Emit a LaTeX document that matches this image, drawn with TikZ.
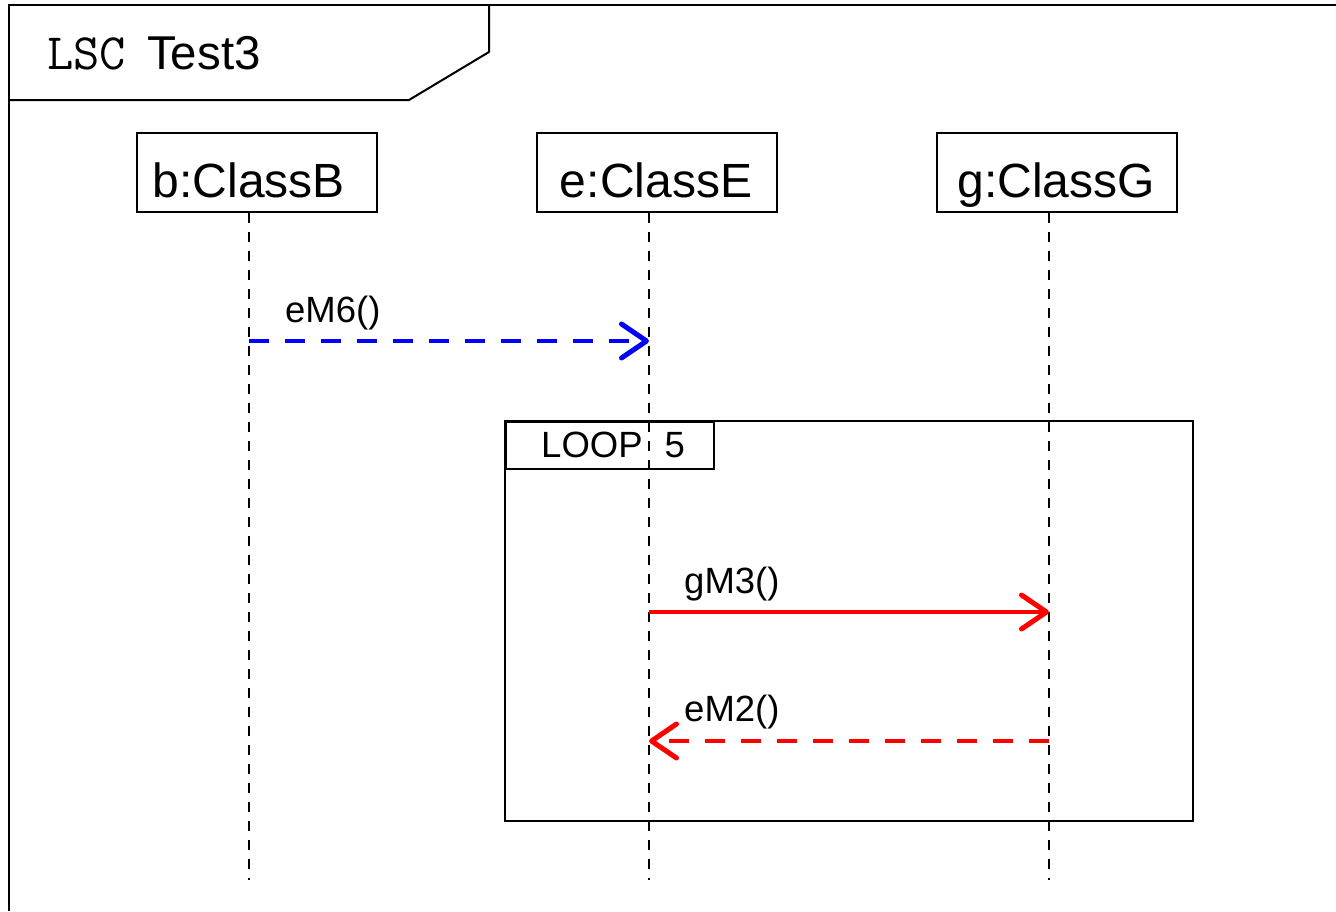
\documentclass[tikz,border=0pt]{standalone}
\usepackage{fontspec}
\setmainfont{Liberation Sans}
\usetikzlibrary{arrows.meta}
\tikzset{
  obj/.style={draw, line width=2pt, minimum width=240pt, minimum height=79pt, inner sep=0pt},
  objtext/.style={anchor=base, inner sep=0pt, font=\fontsize{48}{48}\selectfont},
  life/.style={line width=2pt, dash pattern=on 10pt off 9pt},
  msg/.style={line width=4pt, -{Straight Barb[length=25pt, width=34pt, line width=5pt, round]}},
  lbl/.style={anchor=base west, inner sep=0pt, font=\fontsize{36.5}{36.5}\selectfont}
}
\begin{document}
\begin{tikzpicture}[x=1pt, y=-1pt, line join=miter]
  \useasboundingbox (0,0) rectangle (1336,911);
  % frame and title tab
  \draw[line width=2pt] (1336,5) -- (9,5) -- (9,911);
  \draw[line width=2pt] (489,5) -- (489,52) -- (409,100) -- (9,100);
  \node[anchor=base west, inner sep=0pt] (lsc) at (47,69) {\ttfamily\fontsize{51}{51}\selectfont LSC};
  \node[anchor=base west, inner sep=0pt] (title) at (147,69) {\fontsize{47.5}{47.5}\selectfont Test3};
  % objects
  \node[obj] (b) at (257,172.5) {};
  \node[obj] (e) at (657,172.5) {};
  \node[obj] (g) at (1057,172.5) {};
  \node[objtext] (bt) at (249,197) {b:ClassB};
  \node[objtext] (et) at (656,197) {e:ClassE};
  \node[objtext] (gt) at (1056,197) {g:ClassG};
  \coordinate (B) at (249,213); \coordinate (Bend) at (249,880);
  \coordinate (E) at (649,213); \coordinate (Eend) at (649,880);
  \coordinate (G) at (1049,213); \coordinate (Gend) at (1049,880);
  \foreach \p in {B,E,G} \draw[life] (\p) -- (\p end);
  % loop fragment
  \draw[line width=2pt] (505,421) rectangle (1193,821);
  \node[draw, line width=2pt, anchor=north west, minimum width=208pt, minimum height=47pt, inner sep=0pt] (loop) at (505,421) {};
  \node[lbl] (looplbl) at (541,457) {LOOP\hspace{22pt}5};
  % messages
  \coordinate (b6) at (249,341); \coordinate (e6) at (649,341);
  \coordinate (e3) at (649,612); \coordinate (g3) at (1049,612);
  \coordinate (g2) at (1049,741); \coordinate (e2) at (649,741);
  \draw[msg, blue, dash pattern=on 20pt off 16pt] (b6) -- (e6);
  \draw[msg, red] (e3) -- (g3);
  \draw[msg, red, dash pattern=on 20pt off 16pt] (g2) -- (e2);
  \node[lbl] (m6) at (285,322) {eM6()};
  \node[lbl] (m3) at (684,593) {gM3()};
  \node[lbl] (m2) at (684,721) {eM2()};
\end{tikzpicture}
\end{document}
